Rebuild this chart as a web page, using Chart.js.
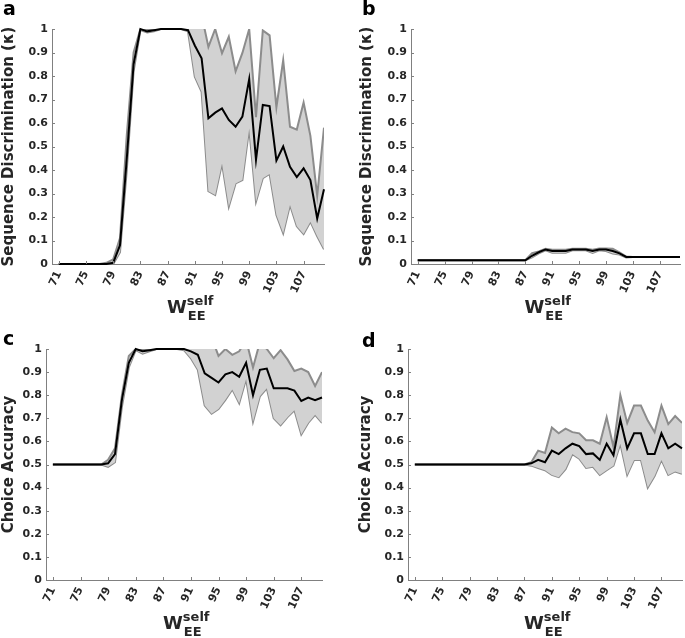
<!DOCTYPE html>
<html lang="en">
<head>
<meta charset="UTF-8" />
<title>Sequence discrimination and choice accuracy vs W_EE self</title>
<script src="https://cdn.jsdelivr.net/npm/chart.js"></script>
<style>
  body { margin: 0; background: #fff; }
  #wrap { position: relative; width: 685px; height: 638px; }
  canvas { position: absolute; }
</style>
</head>
<body>
<div id="wrap">
  <canvas id="panelA" width="342" height="322" style="left:0;top:0"></canvas>
  <canvas id="panelB" width="343" height="322" style="left:342px;top:0"></canvas>
  <canvas id="panelC" width="342" height="318" style="left:0;top:320px"></canvas>
  <canvas id="panelD" width="343" height="318" style="left:342px;top:320px"></canvas>
</div>

<script>
  // W_EE^self values (x axis)
  const wSelf = [71, 72, 73, 74, 75, 76, 77, 78, 79, 80, 81, 82, 83, 84, 85, 86, 87, 88, 89, 90,
                 91, 92, 93, 94, 95, 96, 97, 98, 99, 100, 101, 102, 103, 104, 105, 106, 107, 108, 109, 110];
  const xTicks = [71, 75, 79, 83, 87, 91, 95, 99, 103, 107];
  const yTicks = [0, 0.1, 0.2, 0.3, 0.4, 0.5, 0.6, 0.7, 0.8, 0.9, 1];
  const yTickLabels = ['0', '0.1', '0.2', '0.3', '0.4', '0.5', '0.6', '0.7', '0.8', '0.9', '1'];

  // a: sequence discrimination (kappa)
  const aMean = [0, 0, 0, 0, 0, 0, 0, 0, 0.005, 0.08, 0.45, 0.85, 1.0, 0.99, 0.995, 1.0, 1.0, 1.0, 1.0, 0.995,
                 0.93, 0.875, 0.62, 0.644, 0.662, 0.613, 0.584, 0.627, 0.787, 0.443, 0.677, 0.672, 0.44, 0.5, 0.414, 0.37, 0.407, 0.357, 0.194, 0.318];
  const aUpper = [0, 0, 0, 0, 0, 0, 0, 0.005, 0.02, 0.11, 0.55, 0.9, 1.0, 1.0, 1.0, 1.0, 1.0, 1.0, 1.0, 1.0,
                  1.05, 1.06, 0.924, 1.0, 0.897, 0.967, 0.82, 0.898, 1.0, 0.625, 0.994, 0.973, 0.667, 0.867, 0.584, 0.572, 0.687, 0.545, 0.29, 0.58];
  const aLower = [0, 0, 0, 0, 0, 0, 0, 0, 0, 0.05, 0.4, 0.82, 0.995, 0.985, 0.99, 1.0, 1.0, 1.0, 1.0, 0.99,
                  0.797, 0.733, 0.31, 0.294, 0.428, 0.244, 0.343, 0.357, 0.577, 0.265, 0.365, 0.383, 0.209, 0.131, 0.251, 0.161, 0.128, 0.18, 0.118, 0.063];

  // b: sequence discrimination (kappa), second condition
  const bMean = [0.016, 0.016, 0.016, 0.016, 0.016, 0.016, 0.016, 0.016, 0.016, 0.016, 0.016, 0.016, 0.016, 0.016, 0.016, 0.016, 0.016,
                 0.035, 0.05, 0.062, 0.055, 0.055, 0.055, 0.062, 0.062, 0.062, 0.055, 0.062, 0.062, 0.055, 0.045, 0.03,
                 0.03, 0.03, 0.03, 0.03, 0.03, 0.03, 0.03, 0.03];
  const bUpper = [0.016, 0.016, 0.016, 0.016, 0.016, 0.016, 0.016, 0.016, 0.016, 0.016, 0.016, 0.016, 0.016, 0.016, 0.016, 0.016, 0.016,
                  0.046, 0.053, 0.065, 0.061, 0.061, 0.061, 0.065, 0.065, 0.065, 0.061, 0.066, 0.066, 0.065, 0.05, 0.032,
                  0.03, 0.03, 0.03, 0.03, 0.03, 0.03, 0.03, 0.03];
  const bLower = [0.016, 0.016, 0.016, 0.016, 0.016, 0.016, 0.016, 0.016, 0.016, 0.016, 0.016, 0.016, 0.016, 0.016, 0.016, 0.016, 0.016,
                  0.028, 0.045, 0.058, 0.048, 0.048, 0.048, 0.058, 0.058, 0.058, 0.047, 0.058, 0.055, 0.045, 0.04, 0.028,
                  0.03, 0.03, 0.03, 0.03, 0.03, 0.03, 0.03, 0.03];

  // c: choice accuracy
  const cMean = [0.5, 0.5, 0.5, 0.5, 0.5, 0.5, 0.5, 0.5, 0.505, 0.545, 0.78, 0.94, 1.0, 0.99, 0.995, 1.0, 1.0, 1.0, 1.0, 1.0,
                 0.99, 0.975, 0.895, 0.875, 0.855, 0.89, 0.9, 0.88, 0.94, 0.8, 0.91, 0.915, 0.83, 0.83, 0.83, 0.82, 0.775, 0.79, 0.778, 0.79];
  const cUpper = [0.5, 0.5, 0.5, 0.5, 0.5, 0.5, 0.5, 0.5, 0.52, 0.57, 0.8, 0.97, 1.0, 1.0, 1.0, 1.0, 1.0, 1.0, 1.0, 1.0,
                  1.02, 1.04, 1.05, 1.05, 0.97, 1.0, 0.975, 0.99, 1.04, 0.92, 1.03, 1.0, 0.96, 0.995, 0.955, 0.905, 0.915, 0.9, 0.84, 0.9];
  const cLower = [0.5, 0.5, 0.5, 0.5, 0.5, 0.5, 0.5, 0.5, 0.49, 0.51, 0.75, 0.92, 0.995, 0.98, 0.99, 1.0, 1.0, 1.0, 1.0, 0.995,
                  0.96, 0.91, 0.755, 0.72, 0.74, 0.78, 0.825, 0.765, 0.87, 0.685, 0.795, 0.83, 0.7, 0.67, 0.705, 0.735, 0.63, 0.68, 0.715, 0.68];

  // d: choice accuracy, second condition
  const dMean = [0.5, 0.5, 0.5, 0.5, 0.5, 0.5, 0.5, 0.5, 0.5, 0.5, 0.5, 0.5, 0.5, 0.5, 0.5, 0.5, 0.5,
                 0.505, 0.52, 0.51, 0.56, 0.545, 0.57, 0.59, 0.58, 0.545, 0.548, 0.52, 0.59, 0.54, 0.695, 0.57,
                 0.635, 0.635, 0.545, 0.545, 0.635, 0.57, 0.59, 0.57];
  const dUpper = [0.5, 0.5, 0.5, 0.5, 0.5, 0.5, 0.5, 0.5, 0.5, 0.5, 0.5, 0.5, 0.5, 0.5, 0.5, 0.5, 0.5,
                  0.51, 0.56, 0.55, 0.66, 0.635, 0.655, 0.64, 0.635, 0.605, 0.605, 0.59, 0.705, 0.575, 0.8, 0.68,
                  0.755, 0.755, 0.69, 0.64, 0.755, 0.675, 0.71, 0.68];
  const dLower = [0.5, 0.5, 0.5, 0.5, 0.5, 0.5, 0.5, 0.5, 0.5, 0.5, 0.5, 0.5, 0.5, 0.5, 0.5, 0.5, 0.5,
                  0.495, 0.485, 0.475, 0.455, 0.445, 0.48, 0.545, 0.525, 0.485, 0.49, 0.455, 0.475, 0.495, 0.59, 0.455,
                  0.52, 0.52, 0.4, 0.45, 0.52, 0.455, 0.47, 0.46];

  const FONT = '"DejaVu Sans", "Liberation Sans", sans-serif';
  const axisColor = '#808080';
  const textColor = '#262626';
  const bandFill = '#d2d2d2';
  const bandEdge = '#8c8c8c';

  const pts = ys => wSelf.map((w, i) => ({ x: w, y: ys[i] }));

  // inward ticks, panel letter and the W_EE^self axis label
  const panelDecor = {
    id: 'panelDecor',
    afterDraw(chart, args, opts) {
      const ctx = chart.ctx;
      const area = chart.chartArea;
      const xs = chart.scales.x, ys = chart.scales.y;
      ctx.save();
      ctx.strokeStyle = axisColor;
      ctx.lineWidth = 1;
      ctx.beginPath();
      ys.ticks.forEach(t => {
        const y = Math.round(ys.getPixelForValue(t.value)) + 0.5;
        ctx.moveTo(area.left, y); ctx.lineTo(area.left + 3, y);
      });
      xs.ticks.forEach(t => {
        const x = Math.round(xs.getPixelForValue(t.value)) + 0.5;
        ctx.moveTo(x, area.bottom); ctx.lineTo(x, area.bottom - 3);
      });
      ctx.stroke();

      ctx.textBaseline = 'alphabetic';
      ctx.textAlign = 'left';
      ctx.fillStyle = '#000';
      ctx.font = 'bold 19px ' + FONT;
      ctx.fillText(opts.letter, opts.letterX, opts.letterY);

      const cx = (area.left + area.right) / 2;
      ctx.fillStyle = textColor;
      ctx.font = 'bold 18px ' + FONT;
      const wW = ctx.measureText('W').width;
      const x0 = cx - 21;
      ctx.fillText('W', x0, area.bottom + 49);
      ctx.font = 'bold 13px ' + FONT;
      ctx.fillText('self', x0 + wW, area.bottom + 41);
      ctx.fillText('EE', x0 + wW + 1, area.bottom + 56);
      ctx.restore();
    }
  };

  function makePanel(id, p) {
    const canvas = document.getElementById(id);
    const H = canvas.height;
    return new Chart(canvas.getContext('2d'), {
      type: 'line',
      data: {
        datasets: [
          { data: pts(p.mean), borderColor: '#000', borderWidth: 2, pointRadius: 0, fill: false,
            clip: { left: 0, top: 2, right: 2, bottom: 2 } },
          { data: pts(p.upper), borderColor: bandEdge, borderWidth: 2, pointRadius: 0,
            fill: '+1', backgroundColor: bandFill, clip: 0 },
          { data: pts(p.lower), borderColor: bandEdge, borderWidth: 2, pointRadius: 0, fill: false, clip: 0 }
        ]
      },
      options: {
        responsive: false,
        animation: false,
        events: [],
        layout: { padding: { left: 0, top: p.top, right: p.padRight, bottom: 0 } },
        scales: {
          x: {
            type: 'linear', min: 70, max: 110,
            afterBuildTicks: s => { s.ticks = xTicks.map(v => ({ value: v })); },
            afterFit: s => { s.height = H - p.bottom; },
            grid: { display: false, drawTicks: false },
            border: { display: true, color: axisColor, width: 1 },
            ticks: { autoSkip: false, minRotation: 65, maxRotation: 65, padding: 5,
                     color: textColor, font: { family: FONT, size: 11, weight: 'bold' } }
          },
          y: {
            type: 'linear', min: 0, max: 1,
            afterBuildTicks: s => { s.ticks = yTicks.map(v => ({ value: v })); },
            afterFit: s => { s.width = p.left; },
            grid: { display: false, drawTicks: false },
            border: { display: true, color: axisColor, width: 1 },
            ticks: { padding: 4, color: textColor, callback: (v, i) => yTickLabels[i],
                     font: { family: FONT, size: 11, weight: 'bold' } },
            title: { display: true, text: p.yTitle, color: textColor,
                     padding: { top: p.titlePad, bottom: 0 },
                     font: { family: FONT, size: 15, weight: 'bold' } }
          }
        },
        plugins: {
          legend: { display: false },
          tooltip: { enabled: false },
          panelDecor: { letter: p.letter, letterX: p.letterX, letterY: p.letterY }
        }
      },
      plugins: [panelDecor]
    });
  }

  const seqTitle = 'Sequence Discrimination (\u03BA)';
  const accTitle = 'Choice Accuracy';

  makePanel('panelA', { mean: aMean, upper: aUpper, lower: aLower, yTitle: seqTitle,
    left: 52, padRight: 18, top: 29, bottom: 264, titlePad: 0, letter: 'a', letterX: 3, letterY: 15 });
  makePanel('panelB', { mean: bMean, upper: bUpper, lower: bLower, yTitle: seqTitle,
    left: 69, padRight: 5, top: 29, bottom: 264, titlePad: 16, letter: 'b', letterX: 20, letterY: 15 });
  makePanel('panelC', { mean: cMean, upper: cUpper, lower: cLower, yTitle: accTitle,
    left: 46, padRight: 20, top: 29, bottom: 260, titlePad: 0, letter: 'c', letterX: 3, letterY: 25 });
  makePanel('panelD', { mean: dMean, upper: dUpper, lower: dLower, yTitle: accTitle,
    left: 66, padRight: 3, top: 29, bottom: 260, titlePad: 15, letter: 'd', letterX: 20, letterY: 27 });
</script>
</body>
</html>
